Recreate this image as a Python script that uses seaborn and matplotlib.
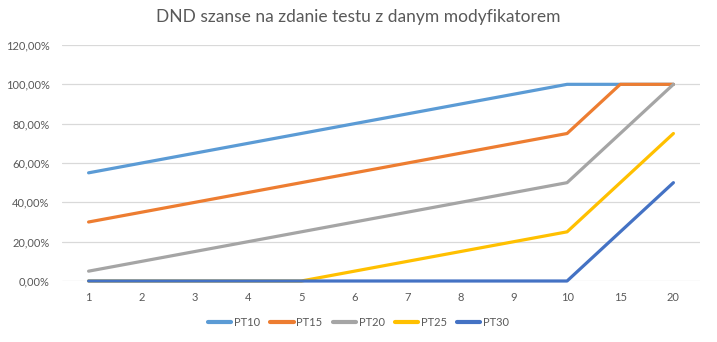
import matplotlib
matplotlib.use("Agg")
import matplotlib.pyplot as plt
import seaborn as sns
import pandas as pd
from matplotlib.ticker import FuncFormatter

categories = ["1", "2", "3", "4", "5", "6", "7", "8", "9", "10", "15", "20"]
pt10 = [55, 60, 65, 70, 75, 80, 85, 90, 95, 100, 100, 100]
pt15 = [30, 35, 40, 45, 50, 55, 60, 65, 70, 75, 100, 100]
pt20 = [5, 10, 15, 20, 25, 30, 35, 40, 45, 50, 75, 100]
pt25 = [0, 0, 0, 0, 0, 5, 10, 15, 20, 25, 50, 75]
pt30 = [0, 0, 0, 0, 0, 0, 0, 0, 0, 0, 25, 50]
series_names = ["PT10", "PT15", "PT20", "PT25", "PT30"]
series_values = [pt10, pt15, pt20, pt25, pt30]
colors = ["#5B9BD5", "#ED7D31", "#A5A5A5", "#FFC000", "#4472C4"]

rows = []
for name, vals in zip(series_names, series_values):
    for i, v in enumerate(vals):
        rows.append({"idx": i, "value": v, "series": name})
df = pd.DataFrame(rows)

sns.set_theme(style="white")
plt.rcParams["font.family"] = ["Lato", "DejaVu Sans"]
text_color = "#595959"

fig = plt.figure(figsize=(7.17, 3.42), dpi=100)
ax = fig.add_axes([62 / 717, 1 - 281 / 342, 638 / 717, 236 / 342])

sns.lineplot(data=df, x="idx", y="value", hue="series", hue_order=series_names,
             palette=colors, linewidth=2.3, ax=ax, legend=True)
for ln in ax.get_lines():
    ln.set_clip_on(False)
    ln.set_zorder(3)

ax.set_xlim(-0.5, len(categories) - 0.5)
ax.set_ylim(0, 120)
ax.set_yticks(range(0, 121, 20))
ax.yaxis.set_major_formatter(FuncFormatter(lambda v, p: f"{v:.2f}%".replace(".", ",")))
ax.set_xticks(range(len(categories)))
ax.set_xticklabels(categories)
ax.grid(axis="y", color="#D9D9D9", linewidth=0.9)
ax.set_axisbelow(True)
for s in ["top", "right", "left", "bottom"]:
    ax.spines[s].set_visible(False)
ax.tick_params(axis="both", length=0, labelsize=8, colors=text_color)
ax.tick_params(axis="x", pad=8)
ax.tick_params(axis="y", pad=9)
ax.set_xlabel("")
ax.set_ylabel("")

fig.suptitle("DND szanse na zdanie testu z danym modyfikatorem", x=0.5, y=0.975,
             fontsize=12.5, color=text_color)

handles, labels = ax.get_legend_handles_labels()
ax.legend_.remove()
leg = fig.legend(handles, labels, loc="center", bbox_to_anchor=(0.5, 1 - 322 / 342),
                 ncol=5, frameon=False, fontsize=8, handlelength=2.1,
                 columnspacing=0.9, handletextpad=0.25)
for t in leg.get_texts():
    t.set_color(text_color)
for line in leg.get_lines():
    line.set_linewidth(3)

fig.savefig("out.png", dpi=100)
